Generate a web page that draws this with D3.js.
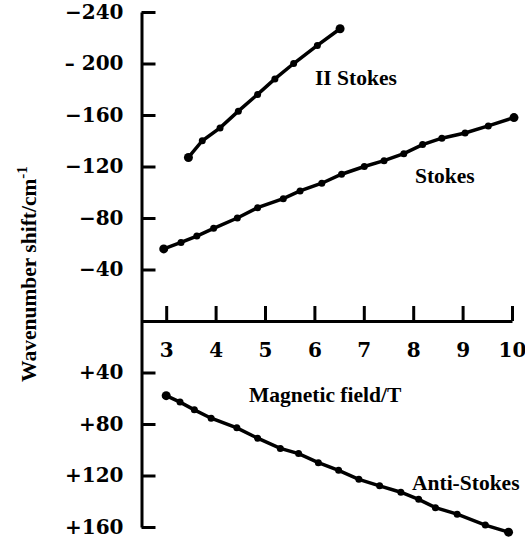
<!DOCTYPE html>
<html>
<head>
<meta charset="utf-8">
<script src="https://cdn.jsdelivr.net/npm/d3@7"></script>
<style>
  body { margin: 0; background: #fff; }
  .num text { font-family: 'DejaVu Serif', serif; font-weight: bold; font-size: 20px; }
  .lbl { font-family: 'Liberation Serif', serif; font-weight: bold; font-size: 21.5px; }
</style>
</head>
<body>
<div id="chart"></div>
<script>
// magnetic field (T) and wavenumber shift (cm-1)
const field2Stokes = [3.45, 3.73, 4.09, 4.46, 4.85, 5.2, 5.58, 6.06, 6.52];
const shift2Stokes = [-127, -140, -150, -163, -176, -188, -200, -214, -227];

const fieldStokes = [2.95, 3.3, 3.62, 3.96, 4.44, 4.85, 5.37, 5.71, 6.15, 6.55, 7.01, 7.41, 7.81, 8.19, 8.58, 9.05, 9.52, 10.04];
const shiftStokes = [-56, -61, -66, -72, -80, -88, -95, -101, -107, -114, -120, -124.5, -130, -137, -142, -146, -151.5, -158];

const fieldAnti = [3.0, 3.28, 3.57, 3.91, 4.43, 4.85, 5.31, 5.68, 6.08, 6.49, 6.9, 7.32, 7.75, 8.11, 8.45, 8.89, 9.46, 9.93];
const shiftAnti = [58, 63, 69, 75.5, 83, 91, 99, 103, 110, 116, 123, 128, 133, 138.5, 145, 150, 158.5, 164];

const xTicks = [3, 4, 5, 6, 7, 8, 9, 10];
const yTicks = [-240, -200, -160, -120, -80, -40, 40, 80, 120, 160];
const yTickLabels = ['\u2212240', '\u2013 200', '\u2212160', '\u2212120', '\u221280', '\u221240', '+40', '+80', '+120', '+160'];

const series = [
  { name: 'II Stokes', x: field2Stokes, y: shift2Stokes, lx: 315, ly: 85 },
  { name: 'Stokes', x: fieldStokes, y: shiftStokes, lx: 415, ly: 183 },
  { name: 'Anti-Stokes', x: fieldAnti, y: shiftAnti, lx: 412, ly: 490 },
];

const width = 525;
const height = 538;

const svg = d3.select('#chart').append('svg')
  .attr('width', width)
  .attr('height', height);

const x = d3.scaleLinear().domain([2.5, 10]).range([141.5, 512]);
const y = d3.scaleLinear().domain([-240, 160]).range([12, 527]);

// horizontal axis at zero, ticks pointing up
const xAxis = d3.axisBottom(x)
  .tickValues(xTicks)
  .tickSizeInner(-15)
  .tickSizeOuter(0)
  .tickPadding(22);

svg.append('g')
  .attr('class', 'num')
  .attr('transform', `translate(0,${y(0)})`)
  .call(xAxis)
  .call(g => g.selectAll('path, line').attr('stroke', '#000').attr('stroke-width', 3))
  .call(g => g.selectAll('text').attr('fill', '#000'));

// vertical axis, ticks to the right, labels on the left
const yAxis = d3.axisLeft(y)
  .tickValues(yTicks)
  .tickFormat((d, i) => yTickLabels[i])
  .tickSizeInner(-14)
  .tickSizeOuter(0)
  .tickPadding(18);

svg.append('g')
  .attr('class', 'num')
  .attr('transform', `translate(${x(2.5)},0)`)
  .call(yAxis)
  .call(g => g.selectAll('path, line').attr('stroke', '#000').attr('stroke-width', 3))
  .call(g => g.selectAll('text').attr('fill', '#000'));

const line = d3.line()
  .x(d => x(d[0]))
  .y(d => y(d[1]));

series.forEach((s) => {
  const pts = s.x.map((v, i) => [v, s.y[i]]);
  svg.append('path')
    .datum(pts)
    .attr('fill', 'none')
    .attr('stroke', '#000')
    .attr('stroke-width', 3.5)
    .attr('d', line);

  svg.selectAll(null)
    .data(pts)
    .enter().append('circle')
    .attr('cx', d => x(d[0]))
    .attr('cy', d => y(d[1]))
    .attr('r', (d, i) => (i === 0 || i === pts.length - 1 ? 4.5 : 3.5))
    .attr('fill', '#000');

  svg.append('text')
    .attr('class', 'lbl')
    .attr('x', s.lx)
    .attr('y', s.ly)
    .text(s.name);
});

svg.append('text')
  .attr('class', 'lbl')
  .attr('x', 249)
  .attr('y', 402)
  .text('Magnetic field/T');

svg.append('text')
  .attr('class', 'lbl')
  .attr('transform', 'translate(36,274) rotate(-90)')
  .attr('text-anchor', 'middle')
  .text('Wavenumber shift/cm')
  .append('tspan')
  .attr('dy', -9)
  .attr('font-size', 15)
  .text('-1');
</script>
</body>
</html>
